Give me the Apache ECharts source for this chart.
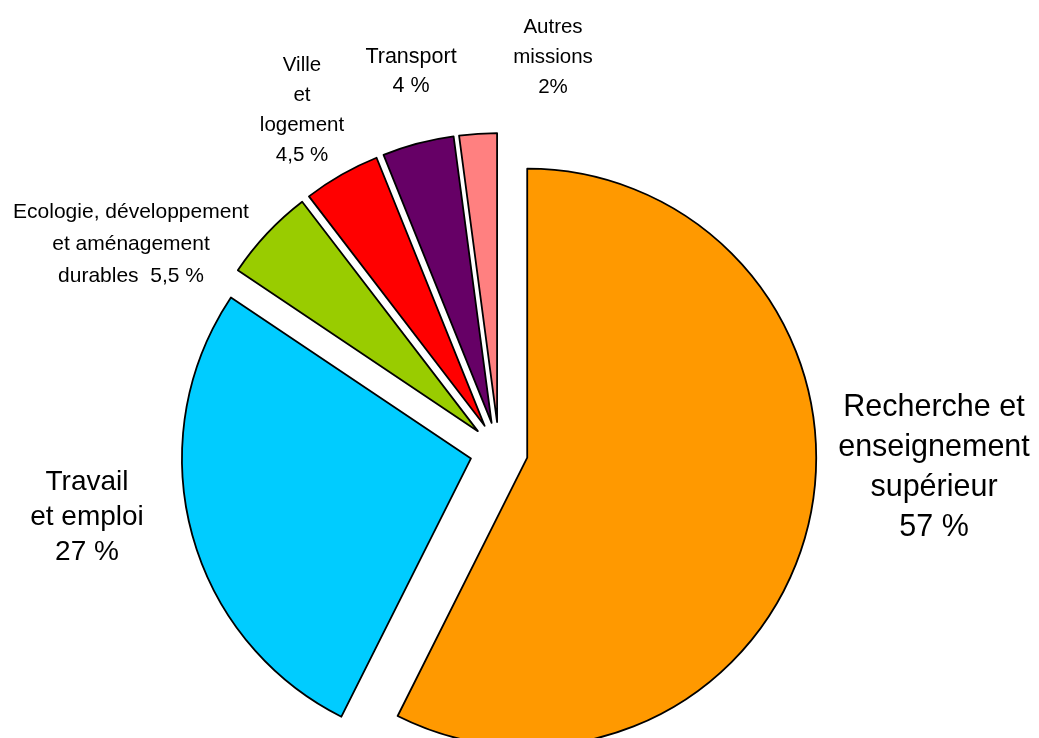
<!DOCTYPE html>
<html>
<head>
<meta charset="utf-8">
<script src="https://cdn.jsdelivr.net/npm/echarts@6/dist/echarts.min.js"></script>
<style>
  html, body { margin: 0; padding: 0; background: #fff; }
  #chart { width: 1039px; height: 738px; }
</style>
</head>
<body>
<div id="chart"></div>
<script>
// categories, clockwise from 12 o'clock
var categories = [
  'Recherche et enseignement supérieur',
  'Travail et emploi',
  'Ecologie, développement et aménagement durables',
  'Ville et logement',
  'Transport',
  'Autres missions'
]
// parts in % (labels show rounded figures)
var values = [57.4, 27.0, 5.2, 4.3, 4.0, 2.1]
// label text as printed on the chart
var labelTexts = [
  'Recherche et\nenseignement\nsupérieur\n57 %',
  'Travail\net emploi\n27 %',
  'Ecologie, développement\net aménagement\ndurables  5,5 %',
  'Ville\net\nlogement\n4,5 %',
  'Transport\n4 %',
  'Autres\nmissions\n2%'
]
var colors = ['#FF9900', '#00CCFF', '#99CC00', '#FF0000', '#660066', '#FF8080']

// label block centres and sizes (layout only)
var labelPos = [[934, 468], [87, 517], [131, 244], [302, 110], [411, 72], [553, 57]]
var labelSize = [30.5, 28, 21, 20.5, 21.5, 20.5]
var labelLineH = [40, 35, 32, 30, 29, 30]

var chart = echarts.init(document.getElementById('chart'))

var data = categories.map(function (name, i) {
  return {
    name: name,
    value: values[i],
    selected: true,
    itemStyle: { color: colors[i] }
  }
})

// les étiquettes sont posées en texte libre
var labels = labelTexts.map(function (txt, i) {
  return {
    type: 'text',
    x: labelPos[i][0],
    y: labelPos[i][1],
    silent: true,
    style: {
      text: txt,
      fill: '#000',
      fontSize: labelSize[i],
      fontFamily: '"Liberation Sans", Arial, sans-serif',
      lineHeight: labelLineH[i],
      align: 'center',
      verticalAlign: 'middle',
      textAlign: 'center',
      textVerticalAlign: 'middle'
    }
  }
})

chart.setOption({
  animation: false,
  graphic: labels,
  series: [
    {
      type: 'pie',
      center: [499, 451],
      radius: 289,
      startAngle: 90,
      clockwise: true,
      selectedMode: 'multiple',
      selectedOffset: 29,
      itemStyle: { borderColor: '#000', borderWidth: 1.8 },
      select: { itemStyle: { borderColor: '#000', borderWidth: 1.8 } },
      emphasis: { disabled: true },
      label: { show: false },
      labelLine: { show: false },
      data: data
    }
  ]
})
</script>
</body>
</html>
